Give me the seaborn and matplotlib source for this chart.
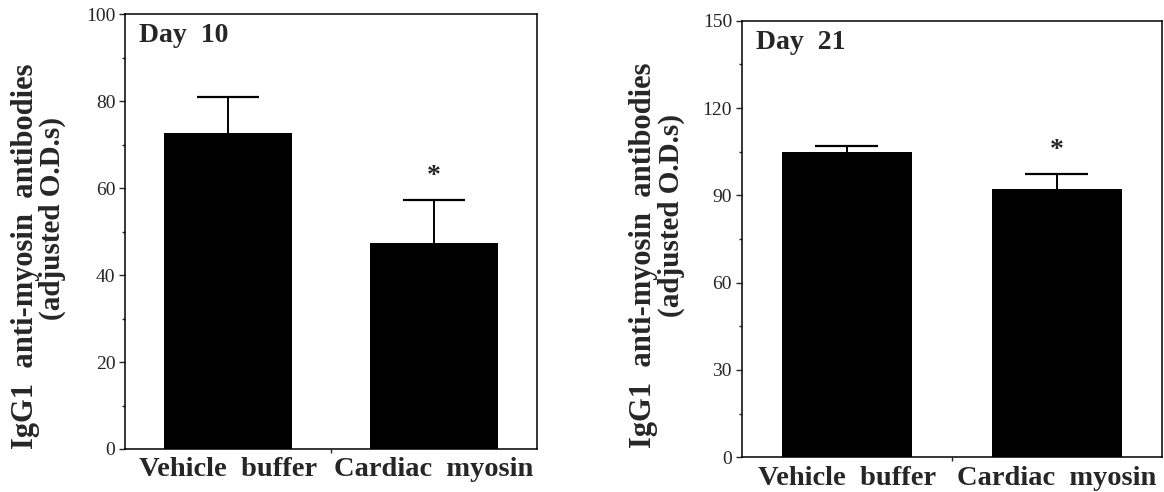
import numpy as np
import pandas as pd
import seaborn as sns
import matplotlib
matplotlib.use("Agg")
import matplotlib.pyplot as plt
from matplotlib.ticker import MultipleLocator, FixedLocator

# data
groups = ["Vehicle  buffer", "Cardiac  myosin"]
day10_mean = [72.7, 47.3]
day10_err = [8.3, 9.9]
day21_mean = [105.0, 92.1]
day21_err = [2.1, 5.2]

sns.set_style("ticks")
plt.rcParams['font.family'] = ['Liberation Serif', 'DejaVu Serif']
plt.rcParams['axes.linewidth'] = 1.1

fig = plt.figure(figsize=(11.64, 4.92), dpi=100)
ax1 = fig.add_axes([0.1074, 0.0874, 0.3540, 0.8841])
ax2 = fig.add_axes([0.6372, 0.0705, 0.3611, 0.8874])

panels = [
    (ax1, day10_mean, day10_err, "Day  10", 100, 20, 10),
    (ax2, day21_mean, day21_err, "Day  21", 150, 30, 15),
]

for ax, mean, err, title, ymax, major, minor in panels:
    df = pd.DataFrame({"group": groups, "value": mean})
    sns.barplot(data=df, x="group", y="value", color="black", saturation=1,
                width=0.62, linewidth=0, ax=ax)
    pos = np.arange(len(mean))
    top = np.array(mean) + np.array(err)
    # one-sided error bars (upper only)
    ax.vlines(pos, mean, top, color="black", lw=1.4)
    ax.hlines(top, pos - 0.15, pos + 0.15, color="black", lw=1.6)
    ax.annotate("*", xy=(pos[1], top[1]), xytext=(0, 17), textcoords="offset points",
                ha="center", va="center", fontsize=20, fontweight="bold")
    ax.set_xlim(-0.5, 1.5)
    ax.set_ylim(0, ymax)
    ax.yaxis.set_major_locator(MultipleLocator(major))
    ax.yaxis.set_minor_locator(MultipleLocator(minor))
    ax.xaxis.set_minor_locator(FixedLocator([0.5]))
    ax.tick_params(axis="y", which="major", length=4, width=1, labelsize=14, pad=3)
    ax.tick_params(axis="y", which="minor", length=2.2, width=1)
    ax.tick_params(axis="x", which="major", length=0, labelsize=20.5, pad=6)
    ax.tick_params(axis="x", which="minor", length=3, width=1)
    for lab in ax.get_xticklabels():
        lab.set_fontweight("bold")
    ax.set_xlabel("")
    ax.set_ylabel("")
    for s in ax.spines.values():
        s.set_visible(True)
        s.set_color("black")
    ax.text(0.035, 0.936, title, transform=ax.transAxes, fontsize=20,
            fontweight="bold", ha="left", va="baseline")

# y-axis labels, two lines each, positioned as in the original
for x1, y1, x2, y2 in [(0.0215, 0.4787, 0.0447, 0.5559), (0.5528, 0.4817, 0.5769, 0.561)]:
    fig.text(x1, y1, "IgG1  anti-myosin  antibodies", rotation=90, ha="center",
             va="center", fontsize=22, fontweight="bold")
    fig.text(x2, y2, "(adjusted O.D.s)", rotation=90, ha="center",
             va="center", fontsize=21, fontweight="bold")

fig.savefig("out.png", dpi=100)
